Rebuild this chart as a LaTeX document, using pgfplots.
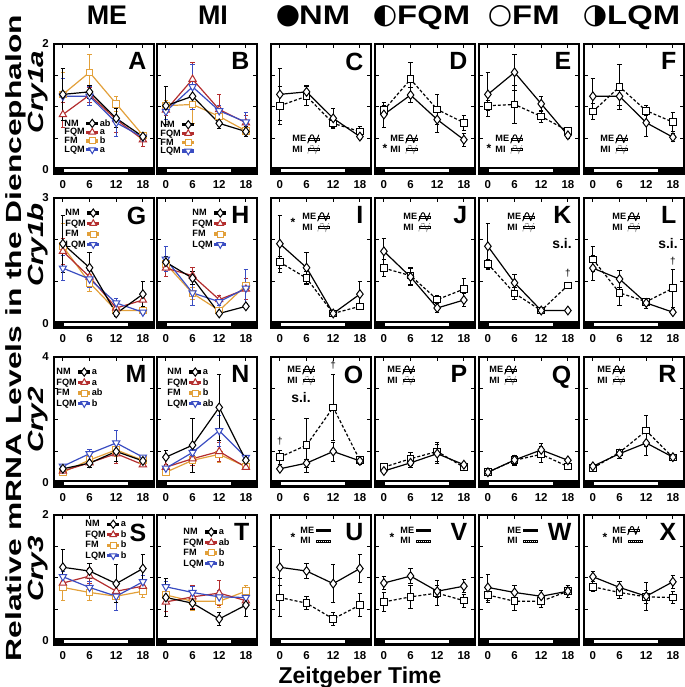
\documentclass[border=0pt]{standalone}
\usepackage{fontspec}
\setmainfont{Liberation Sans}
\newfontfamily\dejavu{DejaVu Sans}
\usepackage{graphicx}
\usepackage{pgfplots}
\usepackage{pgfplotstable}
\pgfplotsset{compat=1.18}

\definecolor{cFQM}{HTML}{B32D2E}
\definecolor{cFM}{HTML}{E2A03A}
\definecolor{cLQM}{HTML}{3A4DC2}

% Cry1a
\pgfplotstableread{
zt NM NMe FQM FQMe FM FMe LQM LQMe
0 1.20 0.42 0.88 0.20 1.20 0.35 1.17 0.28
6 1.24 0.10 1.19 0.12 1.55 0.28 1.17 0.15
12 0.82 0.15 0.80 0.20 1.05 0.12 0.75 0.22
18 0.53 0.05 0.48 0.10 0.55 0.05 0.52 0.06
}\AME
\pgfplotstableread{
zt NM NMe FQM FQMe FM FMe LQM LQMe
0 1.02 0.30 0.95 0.08 1.02 0.08 0.93 0.12
6 1.17 0.15 1.44 0.27 1.04 0.30 1.32 0.36
12 0.74 0.08 0.96 0.24 0.85 0.10 0.94 0.08
18 0.61 0.08 0.75 0.12 0.62 0.05 0.76 0.15
}\AMI
% Cry1b
\pgfplotstableread{
zt NM NMe FQM FQMe FM FMe LQM LQMe
0 1.91 0.68 1.73 0.30 1.85 0.55 1.33 0.30
6 1.34 0.37 1.12 0.20 0.98 0.20 1.07 0.20
12 0.25 0.06 0.38 0.10 0.32 0.05 0.50 0.12
18 0.71 0.30 0.57 0.15 0.32 0.04 0.28 0.06
}\BME
\pgfplotstableread{
zt NM NMe FQM FQMe FM FMe LQM LQMe
0 1.47 0.15 1.33 0.20 1.43 0.10 1.54 0.30
6 1.09 0.15 1.15 0.20 0.73 0.15 0.74 0.30
12 0.25 0.05 0.58 0.10 0.32 0.06 0.53 0.08
18 0.42 0.06 0.83 0.25 0.92 0.08 0.85 0.45
}\BMI
% Cry2
\pgfplotstableread{
zt NM NMe FQM FQMe FM FMe LQM LQMe
0 0.45 0.05 0.38 0.05 0.34 0.06 0.53 0.06
6 0.63 0.12 0.64 0.15 0.73 0.15 0.93 0.15
12 1.00 0.30 0.93 0.30 1.05 0.20 1.27 0.40
18 0.70 0.10 0.58 0.06 0.72 0.06 0.82 0.06
}\CME
\pgfplotstableread{
zt NM NMe FQM FQMe FM FMe LQM LQMe
0 0.82 0.22 0.50 0.05 0.34 0.05 0.47 0.05
6 1.20 0.86 0.77 0.20 0.72 0.15 0.97 0.10
12 2.40 1.06 1.00 0.30 0.91 0.25 1.66 0.50
18 0.72 0.10 0.50 0.06 0.52 0.06 0.81 0.07
}\CMI
% Cry3
\pgfplotstableread{
zt NM NMe FQM FQMe FM FMe LQM LQMe
0 1.17 0.28 0.92 0.10 0.85 0.20 1.02 0.08
6 1.11 0.12 1.03 0.12 0.77 0.12 0.85 0.10
12 0.91 0.30 0.79 0.10 0.71 0.10 0.71 0.22
18 1.15 0.22 0.87 0.10 0.79 0.10 0.94 0.10
}\DME
\pgfplotstableread{
zt NM NMe FQM FQMe FM FMe LQM LQMe
0 0.69 0.30 0.62 0.15 0.73 0.12 0.86 0.08
6 0.60 0.10 0.70 0.18 0.63 0.15 0.77 0.10
12 0.35 0.10 0.76 0.20 0.63 0.10 0.70 0.10
18 0.57 0.18 0.64 0.10 0.79 0.10 0.69 0.10
}\DMI

\pgfplotsset{
  legend image code/.code={\path (0bp,-1bp) rectangle (11bp,1bp);
    \draw[overlay,mark repeat=2,mark phase=2,#1] plot coordinates {(0bp,0bp) (5.5bp,0bp) (11bp,0bp)};},
  panel/.style={
    scale only axis, width=100bp, height=130bp, anchor=north west,
    xmin=-2, xmax=20.5,
    xtick={0,6,12,18}, xticklabels={0,6,12,18},
    xtick pos=top, xticklabel pos=bottom,
    ytick pos=both, yticklabel pos=left,
    tick align=inside, major tick length=4bp,
    tick style={line width=1bp, black},
    axis line style={line width=1.6bp},
    ticklabel style={font=\fontsize{11.5}{11.5}\selectfont\bfseries},
    xticklabel style={inner sep=0pt, yshift=-6bp},
    yticklabel style={inner sep=0pt, xshift=-5bp},
    /pgf/number format/assume math mode=true,
    clip=false,
    legend style={draw=none, fill=none, inner sep=0pt, outer sep=0pt,
      font=\fontsize{9.2}{9.2}\selectfont\bfseries,
      nodes={inner sep=0.4bp, text height=6.4bp, text depth=0.8bp},
      column sep=1bp},
    legend cell align=left,
  },
  row1/.style={ymin=-0.064, ymax=2, ytick={0,0.5,1,1.5,2}},
  row2/.style={ymin=-0.096, ymax=3, ytick={0,1,2,3}},
  row3/.style={ymin=-0.128, ymax=4, ytick={0,1,2,3,4}},
  nolab/.style={yticklabels={}},
  eb/.style={error bars/y dir=both, error bars/y explicit,
    error bars/error bar style={line width=0.8bp, solid},
    error bars/error mark options={rotate=90, mark size=2.2bp, line width=0.8bp, solid}},
  nm/.style={black, line width=1.2bp, mark=diamond*, mark size=4.4bp, mark options={solid, fill=white, line width=1bp}},
  fqm/.style={cFQM, line width=1.2bp, mark=triangle*, mark size=4.2bp, mark options={solid, fill=white, line width=1bp}},
  fm/.style={cFM, line width=1.2bp, mark=square*, mark size=3.3bp, mark options={solid, fill=white, line width=1bp}},
  lqm/.style={cLQM, line width=1.2bp, mark=triangle*, mark size=4.2bp, mark options={solid, fill=white, line width=1bp, rotate=180}},
  me/.style={nm},
  mi/.style={black, line width=1.2bp, dash pattern=on 3bp off 2bp, mark=square*, mark size=3.3bp, mark options={solid, fill=white, line width=1bp}},
  wavesolid/.style={legend image code/.code={\path (0bp,-1bp) rectangle (11bp,1bp);
    \draw[overlay,black,line width=1bp,line join=round,line cap=round] (0bp,-4bp) -- (3bp,3.6bp) to[out=70,in=110] (5.4bp,3.6bp) -- (8bp,-3.6bp) -- (11bp,4bp);}},
  wavedot/.style={legend image code/.code={\path (0bp,-1bp) rectangle (11bp,1bp);
    \draw[overlay,black!60,line width=0.8bp,dash pattern=on 1bp off 1bp] (0bp,-4bp) -- (3bp,3.6bp) to[out=70,in=110] (5.4bp,3.6bp) -- (8bp,-3.6bp) -- (11bp,4bp);}},
  linesolid/.style={legend image code/.code={\path (0bp,-1bp) rectangle (14bp,1bp);
    \draw[overlay,black,line width=1bp] (0bp,0bp) -- (14bp,0bp);}},
  linedot/.style={legend image code/.code={\path (0bp,-1bp) rectangle (14bp,1bp);
    \draw[overlay,black,line width=1bp,densely dotted] (0bp,0bp) -- (14bp,0bp);}},
  letleg/.style n args={3}{legend columns=2, legend plot pos=right,
    legend style={at={(#1,#2)}, anchor=north west, row sep=#3, column 1/.style={anchor=east}}},
  plainleg/.style n args={3}{legend plot pos=right,
    legend style={at={(#1,#2)}, anchor=north west, row sep=#3, column 1/.style={anchor=east}}},
  meleg/.style n args={2}{legend plot pos=right,
    legend style={at={(#1,#2)}, anchor=north west, row sep=2.4bp}},
}

\newcommand{\lightbar}{%
  \fill[black] (rel axis cs:0,0) rectangle (rel axis cs:1,0.054);
  \fill[white] ({axis cs:0.3,0}|-{rel axis cs:0,0.014}) rectangle ({axis cs:14.6,0}|-{rel axis cs:0,0.040});}
\newcommand{\fourplots}[1]{%
  \addplot[fm,eb,forget plot] table[x=zt,y=FM,y error=FMe]{#1};
  \addplot[fqm,eb,forget plot] table[x=zt,y=FQM,y error=FQMe]{#1};
  \addplot[lqm,eb,forget plot] table[x=zt,y=LQM,y error=LQMe]{#1};
  \addplot[nm,eb,forget plot] table[x=zt,y=NM,y error=NMe]{#1};}
\newcommand{\twoplots}[3]{%
  \addplot[mi,eb,forget plot] table[x=zt,y=#3,y error=#3e]{#2};
  \addplot[me,eb,forget plot] table[x=zt,y=#3,y error=#3e]{#1};}
\newcommand{\letentries}[4]{%
  \addlegendimage{nm,mark size=4.1bp}\addlegendimage{empty legend}%
  \addlegendimage{fqm,mark size=3.8bp}\addlegendimage{empty legend}%
  \addlegendimage{fm,mark size=3bp}\addlegendimage{empty legend}%
  \addlegendimage{lqm,mark size=3.8bp}\addlegendimage{empty legend}%
  \legend{NM,#1,FQM,#2,FM,#3,LQM,#4}}
\newcommand{\plainentries}{%
  \addlegendimage{nm,mark size=4.1bp}\addlegendimage{fqm,mark size=3.8bp}%
  \addlegendimage{fm,mark size=3bp}\addlegendimage{lqm,mark size=3.8bp}%
  \legend{NM,FQM,FM,LQM}}
\newcommand{\meentries}[2]{\addlegendimage{#1}\addlegendimage{#2}\legend{ME,MI}}
\newcommand{\plet}[1]{\node[anchor=north east,inner sep=0pt,font=\fontsize{25}{25}\selectfont\bfseries] at (rel axis cs:0.925,0.935) {#1};}
\newcommand{\pstar}[2]{\node[inner sep=0pt,font=\fontsize{12}{12}\selectfont\bfseries] at (rel axis cs:#1,#2) {*};}
\newcommand{\sinode}[2]{\node[inner sep=0pt,font=\fontsize{14}{14}\selectfont\bfseries] at (rel axis cs:#1,#2) {s.i.};}
\newcommand{\pdag}[2]{\node[inner sep=0pt,font=\fontsize{10}{10}\selectfont] at (axis cs:#1,#2) {†};}

\begin{document}
\begin{tikzpicture}
\useasboundingbox (0,0) rectangle (685bp,687bp);

% titles
\node[anchor=base, font=\fontsize{27}{27}\selectfont\bfseries] at (107bp,662bp) {ME};
\node[anchor=base, font=\fontsize{27}{27}\selectfont\bfseries] at (213bp,662bp) {MI};
\node[inner sep=0pt, font={\dejavu\fontsize{28}{28}\selectfont}] at (288bp,670.5bp) {●};
\node[anchor=base west, inner sep=0pt, font=\fontsize{27}{27}\selectfont\bfseries] at (299bp,662bp) {\scalebox{1.22}[1]{NM}};
\node[inner sep=0pt, font={\dejavu\fontsize{28}{28}\selectfont}] at (385bp,670.5bp) {◐};
\node[anchor=base west, inner sep=0pt, font=\fontsize{27}{27}\selectfont\bfseries] at (397bp,662bp) {\scalebox{1.22}[1]{FQM}};
\node[inner sep=0pt, font={\dejavu\fontsize{28}{28}\selectfont}] at (500bp,670.5bp) {○};
\node[anchor=base west, inner sep=0pt, font=\fontsize{27}{27}\selectfont\bfseries] at (512bp,662bp) {\scalebox{1.22}[1]{FM}};
\node[inner sep=0pt, font={\dejavu\fontsize{28}{28}\selectfont}] at (595bp,670.5bp) {◑};
\node[anchor=base west, inner sep=0pt, font=\fontsize{27}{27}\selectfont\bfseries] at (607bp,662bp) {\scalebox{1.22}[1]{LQM}};

% axis titles
\node[rotate=90, inner sep=0pt, font=\fontsize{22}{22}\selectfont\bfseries] at (16bp,349bp) {\scalebox{1.45}[1]{Relative mRNA Levels in the Diencephalon}};
\node[rotate=90, inner sep=0pt, font=\fontsize{22}{22}\selectfont\bfseries\itshape] at (38bp,595bp) {\scalebox{1.35}[1]{Cry1a}};
\node[rotate=90, inner sep=0pt, font=\fontsize{22}{22}\selectfont\bfseries\itshape] at (38bp,442bp) {\scalebox{1.35}[1]{Cry1b}};
\node[rotate=90, inner sep=0pt, font=\fontsize{22}{22}\selectfont\bfseries\itshape] at (38bp,267bp) {\scalebox{1.35}[1]{Cry2}};
\node[rotate=90, inner sep=0pt, font=\fontsize{22}{22}\selectfont\bfseries\itshape] at (38bp,118bp) {\scalebox{1.35}[1]{Cry3}};
\node[anchor=base, inner sep=0pt, font=\fontsize{23}{23}\selectfont\bfseries] at (360bp,4bp) {Zeitgeber Time};

% ===== Row 1: Cry1a =====
\begin{axis}[panel,row1,yticklabels={0,,,,2},letleg={0.10}{0.42}{0.8bp},at={(54bp,643bp)}]
\lightbar \fourplots{\AME} \letentries{ab}{a}{b}{a} \plet{A}
\end{axis}
\begin{axis}[panel,row1,nolab,plainleg={0.03}{0.41}{0.8bp},at={(157bp,643bp)}]
\lightbar \fourplots{\AMI} \plainentries \plet{B}
\end{axis}
\begin{axis}[panel,row1,nolab,meleg={0.21}{0.30},at={(271bp,643bp)}]
\lightbar \twoplots{\AME}{\AMI}{NM} \meentries{wavesolid}{wavedot} \plet{C}
\end{axis}
\begin{axis}[panel,row1,nolab,meleg={0.15}{0.30},at={(375bp,643bp)}]
\lightbar \twoplots{\AME}{\AMI}{FQM} \meentries{wavesolid}{wavedot} \plet{D} \pstar{0.10}{0.20}
\end{axis}
\begin{axis}[panel,row1,nolab,meleg={0.16}{0.30},at={(479bp,643bp)}]
\lightbar \twoplots{\AME}{\AMI}{FM} \meentries{wavesolid}{wavedot} \plet{E} \pstar{0.10}{0.20}
\end{axis}
\begin{axis}[panel,row1,nolab,meleg={0.16}{0.30},at={(584bp,643bp)}]
\lightbar \twoplots{\AME}{\AMI}{LQM} \meentries{wavesolid}{wavedot} \plet{F}
\end{axis}

% ===== Row 2: Cry1b =====
\begin{axis}[panel,row2,yticklabels={0,,,3},plainleg={0.11}{0.915}{2.5bp},at={(54bp,489bp)}]
\lightbar \fourplots{\BME} \plainentries \plet{G}
\end{axis}
\begin{axis}[panel,row2,nolab,plainleg={0.35}{0.915}{2.5bp},at={(157bp,489bp)}]
\lightbar \fourplots{\BMI} \plainentries \plet{H}
\end{axis}
\begin{axis}[panel,row2,nolab,meleg={0.31}{0.885},at={(271bp,489bp)}]
\lightbar \twoplots{\BME}{\BMI}{NM} \meentries{wavesolid}{wavedot} \plet{I} \pstar{0.22}{0.81}
\end{axis}
\begin{axis}[panel,row2,nolab,meleg={0.28}{0.885},at={(375bp,489bp)}]
\lightbar \twoplots{\BME}{\BMI}{FQM} \meentries{wavesolid}{wavedot} \plet{J}
\end{axis}
\begin{axis}[panel,row2,nolab,meleg={0.28}{0.885},at={(479bp,489bp)}]
\lightbar \twoplots{\BME}{\BMI}{FM} \meentries{wavesolid}{wavedot} \plet{K} \sinode{0.83}{0.65} \pdag{18}{1.2}
\end{axis}
\begin{axis}[panel,row2,nolab,meleg={0.28}{0.885},at={(584bp,489bp)}]
\lightbar \twoplots{\BME}{\BMI}{LQM} \meentries{wavesolid}{wavedot} \plet{L} \sinode{0.84}{0.65} \pdag{18}{1.5}
\end{axis}

% ===== Row 3: Cry2 =====
\begin{axis}[panel,row3,yticklabels={0,,,,4},letleg={0.02}{0.915}{2.5bp},at={(54bp,330bp)}]
\lightbar \fourplots{\CME} \letentries{a}{a}{ab}{b} \plet{M}
\end{axis}
\begin{axis}[panel,row3,nolab,letleg={0.10}{0.915}{2.5bp},at={(157bp,330bp)}]
\lightbar \fourplots{\CMI} \letentries{a}{b}{b}{ab} \plet{N}
\end{axis}
\begin{axis}[panel,row3,nolab,meleg={0.16}{0.93},at={(271bp,330bp)}]
\lightbar \twoplots{\CME}{\CMI}{NM} \meentries{wavesolid}{wavedot} \plet{O} \sinode{0.30}{0.685} \pdag{0}{1.34} \pdag{12}{3.74}
\end{axis}
\begin{axis}[panel,row3,nolab,meleg={0.12}{0.93},at={(375bp,330bp)}]
\lightbar \twoplots{\CME}{\CMI}{FQM} \meentries{wavesolid}{wavedot} \plet{P}
\end{axis}
\begin{axis}[panel,row3,nolab,meleg={0.10}{0.93},at={(479bp,330bp)}]
\lightbar \twoplots{\CME}{\CMI}{FM} \meentries{wavesolid}{wavedot} \plet{Q}
\end{axis}
\begin{axis}[panel,row3,nolab,meleg={0.13}{0.93},at={(584bp,330bp)}]
\lightbar \twoplots{\CME}{\CMI}{LQM} \meentries{wavesolid}{wavedot} \plet{R}
\end{axis}

% ===== Row 4: Cry3 =====
\begin{axis}[panel,row1,yticklabels={0,,,,2},letleg={0.31}{0.96}{2.5bp},at={(54bp,172bp)}]
\lightbar \fourplots{\DME} \letentries{a}{b}{b}{b} \plet{S}
\end{axis}
\begin{axis}[panel,row1,nolab,letleg={0.26}{0.90}{2.5bp},at={(157bp,172bp)}]
\lightbar \fourplots{\DMI} \letentries{a}{ab}{b}{b} \plet{T}
\end{axis}
\begin{axis}[panel,row1,nolab,meleg={0.29}{0.91},at={(271bp,172bp)}]
\lightbar \twoplots{\DME}{\DMI}{NM} \meentries{linesolid}{linedot} \plet{U} \pstar{0.22}{0.83}
\end{axis}
\begin{axis}[panel,row1,nolab,meleg={0.25}{0.91},at={(375bp,172bp)}]
\lightbar \twoplots{\DME}{\DMI}{FQM} \meentries{linesolid}{linedot} \plet{V} \pstar{0.17}{0.83}
\end{axis}
\begin{axis}[panel,row1,nolab,meleg={0.28}{0.91},at={(479bp,172bp)}]
\lightbar \twoplots{\DME}{\DMI}{FM} \meentries{linesolid}{linedot} \plet{W}
\end{axis}
\begin{axis}[panel,row1,nolab,meleg={0.28}{0.91},at={(584bp,172bp)}]
\lightbar \twoplots{\DME}{\DMI}{LQM} \meentries{wavesolid}{linedot} \plet{X} \pstar{0.21}{0.83}
\end{axis}
\end{tikzpicture}
\end{document}
